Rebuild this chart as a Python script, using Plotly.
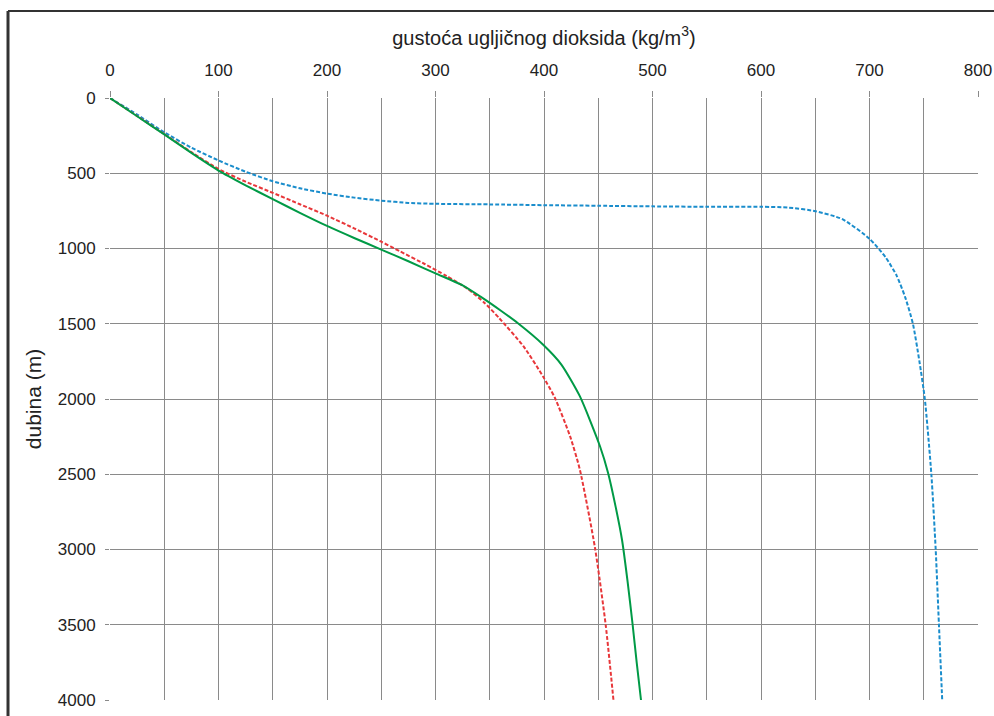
import plotly.graph_objects as go

# CO2 density (kg/m3) vs depth (m)
blue_x = [0, 25, 50, 75, 100, 125, 150, 175, 200, 225, 250, 275, 300, 350, 400, 450, 500, 550, 600, 625, 650, 675, 700, 715, 725, 733, 740, 746, 751, 757, 761, 764, 767]
blue_y = [0, 110, 228, 330, 415, 490, 553, 600, 635, 662, 682, 697, 703, 707, 712, 716, 720, 723, 723, 728, 752, 805, 935, 1060, 1180, 1326, 1500, 1750, 2000, 2500, 3000, 3500, 4000]

red_x = [0, 25, 50, 75, 100, 125, 150, 175, 200, 225, 250, 267, 290, 310, 330, 345, 359, 381, 399, 410, 424, 433, 447, 457, 464]
red_y = [0, 120, 240, 360, 472, 556, 630, 706, 782, 866, 955, 1018, 1103, 1182, 1270, 1360, 1465, 1649, 1849, 1992, 2247, 2468, 2989, 3510, 4000]

green_x = [0, 25, 50, 75, 100, 125, 150, 175, 200, 225, 250, 275, 300, 325, 341.5, 360, 376, 399, 416, 433, 451.6, 459, 466, 472, 477, 481.7, 485.5, 489.4]
green_y = [0, 121, 242, 365, 482, 580, 672, 763, 850, 930, 1007, 1085, 1165, 1245, 1320, 1412, 1497, 1638, 1771, 1981, 2314, 2490, 2715, 2940, 3210, 3500, 3755, 4000]

x_ticks = [0, 100, 200, 300, 400, 500, 600, 700, 800]
y_ticks = [0, 500, 1000, 1500, 2000, 2500, 3000, 3500, 4000]

FONT = "Liberation Sans, Arial, sans-serif"
GRID = "#8a8a8a"

fig = go.Figure()
fig.add_trace(go.Scatter(x=blue_x, y=blue_y, mode="lines",
                         line=dict(color="#1a8dcc", width=2, dash="4px,2px", shape="spline", smoothing=0.6),
                         showlegend=False))
fig.add_trace(go.Scatter(x=red_x, y=red_y, mode="lines",
                         line=dict(color="#e8373a", width=2, dash="4px,2px", shape="spline", smoothing=0.6),
                         showlegend=False))
fig.add_trace(go.Scatter(x=green_x, y=green_y, mode="lines",
                         line=dict(color="#009a46", width=2, shape="spline", smoothing=0.6),
                         showlegend=False))

fig.update_layout(
    width=994, height=716,
    margin=dict(l=110, r=16, t=98, b=16),
    paper_bgcolor="white", plot_bgcolor="white",
    font=dict(family=FONT, size=17, color="#222222"),
    xaxis=dict(side="top", range=[0, 800], tickvals=x_ticks, automargin=False,
               ticks="outside", ticklen=6, tickcolor=GRID, tickwidth=1,
               ticklabelstandoff=8,
               showgrid=True, gridcolor=GRID, gridwidth=1, zeroline=False,
               minor=dict(dtick=50, showgrid=True, gridcolor=GRID, gridwidth=1),
               title=dict(text="gustoća ugljičnog dioksida (kg/m<sup>3</sup>)", font=dict(size=20), standoff=10)),
    yaxis=dict(range=[4000, 0], tickvals=y_ticks, automargin=False,
               ticks="outside", ticklen=4, tickcolor=GRID, tickwidth=1,
               ticklabelstandoff=6,
               showgrid=True, gridcolor=GRID, gridwidth=1, zeroline=False,
               title=dict(text="dubina (m)", font=dict(size=21), standoff=10)),
    shapes=[
        dict(type="line", xref="paper", yref="paper", x0=-0.1175, x1=1.02, y0=1.1445, y1=1.1445,
             line=dict(color="#333333", width=2)),
        dict(type="line", xref="paper", yref="paper", x0=-0.1175, x1=-0.1175, y0=1.1445, y1=-0.03,
             line=dict(color="#333333", width=3)),
    ],
)

fig.write_html("out.html", config={"displayModeBar": False},
               post_script="document.body.style.margin='0';")
